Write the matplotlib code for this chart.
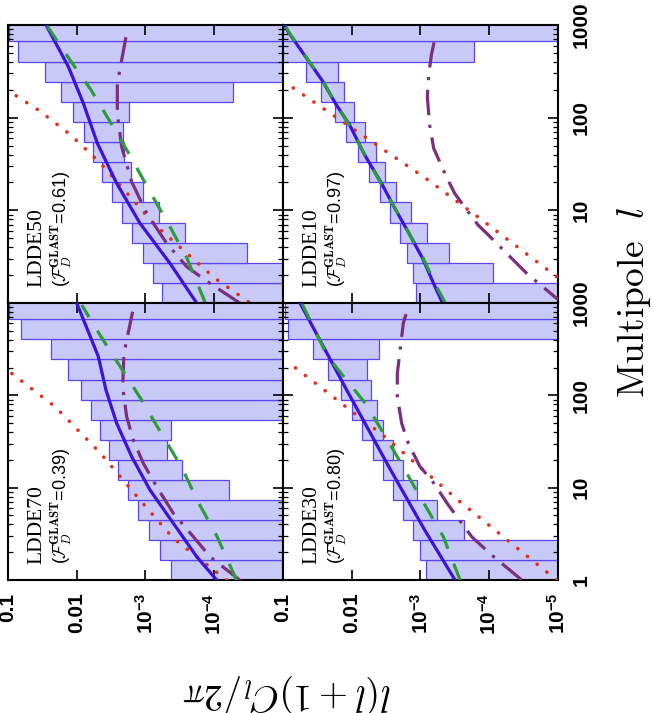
# anisotropy of the blazar background, 4 LDDE models (figure drawn rotated)

import numpy as np
import matplotlib.pyplot as plt
from matplotlib.ticker import FixedLocator, FixedFormatter, LogLocator, NullFormatter

# multipole bins (same for every panel)
bin_edges = [1, 1.65, 2.72, 4.48, 7.39, 12.2, 20.1, 33.1, 54.6, 90.0, 148, 245, 403, 665, 1097]

# error boxes, log10 of l(l+1)C_l/2pi, first bin = lowest l ; -6 means off the axis
ldde50_hi = [-3.24, -3.11, -2.97, -2.81, -2.66, -2.51, -2.37, -2.23, -2.10, -1.95, -1.77, -1.54, -1.15, -1.02]
ldde50_lo = [-6, -6, -4.48, -3.57, -3.20, -2.96, -2.79, -2.69, -2.67, -2.76, -4.28, -6, -6, -6]
ldde10_hi = [-2.935, -2.886, -2.804, -2.697, -2.552, -2.416, -2.251, -2.091, -1.921, -1.752, -1.558, -1.339, -0.9, -0.9]
ldde10_lo = [-6, -4.06, -3.41, -3.095, -2.867, -2.648, -2.488, -2.348, -2.188, -2.033, -1.887, -1.80, -3.773, -6]
ldde70_hi = [-3.366, -3.206, -3.051, -2.886, -2.74, -2.605, -2.469, -2.338, -2.202, -2.057, -1.878, -1.621, -1.184, -1.02]
ldde70_lo = [-6, -6, -6, -6, -4.219, -3.536, -3.318, -3.366, -6, -6, -6, -6, -6, -6]
ldde30_hi = [-3.08, -2.993, -2.886, -2.75, -2.595, -2.45, -2.304, -2.154, -1.999, -1.839, -1.659, -1.441, -1.078, -1.03]
ldde30_lo = [-6, -6, -3.638, -3.235, -2.954, -2.75, -2.595, -2.45, -2.362, -2.275, -2.227, -2.401, -6, -6]

# curves as (log10 l, log10 C)
ldde50_total = [(0, -3.744), (0.428, -3.356), (0.86, -2.92), (1.291, -2.581), (1.723, -2.30),
                (2.155, -2.096), (2.55, -1.878), (3.0, -1.553)]
ldde50_dash = [(0, -3.87), (0.097, -3.817), (0.482, -3.604), (0.842, -3.342), (1.212, -3.056),
               (1.579, -2.784), (1.946, -2.493), (2.306, -2.202), (2.622, -1.902), (3.0, -1.56)]
ldde50_dashdot = [(0.0, -4.37), (0.212, -3.938), (0.392, -3.599), (0.644, -3.308), (0.968, -3.017),
                  (1.31, -2.798), (1.687, -2.653), (2.047, -2.59), (2.37, -2.59), (2.91, -2.726)]
ldde50_dot = [(0.014, -4.496), (0.266, -4.011), (0.554, -3.575), (0.86, -3.114), (1.068, -2.871),
              (1.514, -2.338), (1.813, -1.912), (2.083, -1.441), (2.245, -1.102)]

ldde10_total = [(0, -3.32), (0.194, -3.20), (0.482, -3.03), (0.77, -2.818), (1.058, -2.6),
                (1.309, -2.42), (1.597, -2.188), (1.921, -1.97), (2.137, -1.776), (2.388, -1.582),
                (2.928, -1.073), (3.0, -1.02)]
ldde10_dash = [(0, -3.36), (0.194, -3.22), (0.482, -3.04), (0.77, -2.82), (1.058, -2.6),
               (1.309, -2.41), (1.597, -2.19), (1.921, -1.96), (2.137, -1.78), (2.388, -1.585),
               (2.928, -1.08), (3.0, -1.03)]
ldde10_dashdot = [(0.0, -5.1), (0.05, -4.98), (0.32, -4.544), (0.752, -3.962), (0.842, -3.836),
                  (0.986, -3.691), (1.183, -3.497), (1.363, -3.376), (1.669, -3.192), (1.921, -3.133),
                  (2.227, -3.099), (2.46, -3.119), (2.676, -3.158), (2.892, -3.221)]
ldde10_dot = [(0.284, -4.98), (0.914, -3.861), (1.335, -3.095), (1.831, -2.115), (2.335, -1.121)]

ldde70_total = [(0, -4.035), (0.253, -3.744), (0.614, -3.405), (0.975, -3.065), (1.336, -2.799),
                (1.697, -2.581), (2.058, -2.425), (2.419, -2.314), (2.599, -2.217), (3.0, -1.999)]
ldde70_dash = [(0, -4.32), (0.036, -4.302), (0.48, -4.035), (0.841, -3.768), (1.22, -3.526),
               (1.581, -3.235), (1.949, -2.944), (2.303, -2.639), (2.653, -2.338), (2.978, -2.072)]
ldde70_dashdot = [(-0.018, -4.399), (0.253, -3.938), (0.469, -3.696), (0.722, -3.405), (1.011, -3.162),
                  (1.264, -2.968), (1.516, -2.823), (1.769, -2.726), (2.094, -2.668), (2.455, -2.687),
                  (2.906, -2.813)]
ldde70_dot = [(0, -4.18), (0.451, -3.405), (0.866, -2.92), (1.379, -2.338), (1.877, -1.684), (2.238, -1.053)]

ldde30_total = [(0, -3.502), (0.542, -3.06), (1.191, -2.566), (2.058, -1.926), (3.0, -1.247)]
ldde30_dash = [(0, -3.575), (0.469, -3.332), (0.903, -2.993), (1.408, -2.605), (1.895, -2.217),
               (2.419, -1.65), (3.0, -1.272)]
ldde30_dashdot = [(0, -4.472), (0.271, -4.035), (0.469, -3.744), (0.812, -3.405), (1.083, -3.162),
                  (1.227, -2.993), (1.48, -2.823), (1.697, -2.726), (1.986, -2.663), (2.238, -2.663),
                  (2.78, -2.75), (2.88, -2.79)]
ldde30_dot = [(0, -4.98), (0.848, -3.574), (1.552, -2.48), (2.329, -1.126)]

c_ticks = [1e-1, 1e-2, 1e-3, 1e-4, 1e-5]
c_labels = ['0.1', '0.01', r'$\mathregular{10^{-3}}$', r'$\mathregular{10^{-4}}$', r'$\mathregular{10^{-5}}$']
l_ticks = [1, 10, 100, 1000]
l_labels = ['1', '10', '100', '1000']

box_face = '#c9c9f7'
box_edge = '#5a46ee'


def curve(ax, pts, **kw):
    pts = np.array(pts)
    ax.plot(10.0 ** pts[:, 1], 10.0 ** pts[:, 0], **kw)


def draw_panel(ax, name, frac, hi, lo, total, dash, dashdot, dot, xlab, ylab):
    upper = 10.0 ** np.array(hi)
    lower = 10.0 ** np.array(lo)
    ax.barh(bin_edges[:-1], upper - lower, height=np.diff(bin_edges), left=lower, align='edge',
            color=box_face, edgecolor=box_edge, linewidth=0.9, zorder=1)

    curve(ax, dot, color='#e0301a', lw=2.6, dashes=(0.05, 3.4), dash_capstyle='round', zorder=3)
    curve(ax, dashdot, color='#7b2f7f', lw=2.3, dashes=(8, 3, 1, 3), zorder=3)
    curve(ax, total, color='#3b12de', lw=2.3, zorder=4)
    curve(ax, dash, color='#2d9b3e', lw=2.3, dashes=(5.5, 5), zorder=5)

    ax.set_xscale('log')
    ax.set_yscale('log')
    ax.set_xlim(1e-1, 1e-5)
    ax.set_ylim(1, 1000)

    ax.xaxis.set_major_locator(FixedLocator(c_ticks))
    ax.xaxis.set_major_formatter(FixedFormatter(xlab or [''] * 5))
    ax.xaxis.set_minor_locator(LogLocator(base=10, subs=np.arange(2, 10)))
    ax.xaxis.set_minor_formatter(NullFormatter())
    ax.yaxis.set_major_locator(FixedLocator(l_ticks))
    ax.yaxis.set_major_formatter(FixedFormatter(ylab or [''] * 4))
    ax.yaxis.set_minor_locator(LogLocator(base=10, subs=np.arange(2, 10)))
    ax.yaxis.set_minor_formatter(NullFormatter())

    ax.tick_params(which='both', direction='in', top=True, bottom=True, left=True, right=True,
                   labelleft=False, labeltop=False, labelbottom=xlab is not None,
                   labelright=ylab is not None)
    ax.tick_params(which='major', length=7, width=1.2, labelsize=15)
    ax.tick_params(axis='x', which='major', pad=9)
    ax.tick_params(axis='y', which='major', pad=10)
    ax.tick_params(which='minor', length=3.5, width=0.9)
    for sp in ax.spines.values():
        sp.set_linewidth(1.5)

    if xlab is not None:
        for t in ax.xaxis.get_major_ticks():
            t.label1.set_rotation(90)
            t.label1.set_fontweight('bold')
            t.label1.set_family('Liberation Sans')
    if ylab is not None:
        for t in ax.yaxis.get_major_ticks():
            t.label2.set_rotation(90)
            t.label2.set_va('center')
            t.label2.set_fontweight('bold')
            t.label2.set_family('Liberation Sans')

    ax.text(0.069, 0.058, name, transform=ax.transAxes, rotation=90, ha='left', va='bottom',
            fontsize=15.5, family='Liberation Serif')
    ax.text(0.152, 0.058, '(' + r'$\mathcal{F}_D^{\mathbf{GLAST}}$' + '=' + frac + ')',
            transform=ax.transAxes, rotation=90, ha='left', va='bottom', fontsize=13,
            family='Liberation Sans', math_fontfamily='cm')


fig = plt.figure(figsize=(6.54, 7.13), dpi=100)

ax_tl = fig.add_axes([0.01223, 0.57504, 0.42049, 0.38990])
ax_tr = fig.add_axes([0.43272, 0.57504, 0.42049, 0.38990])
ax_bl = fig.add_axes([0.01223, 0.18654, 0.42049, 0.38850])
ax_br = fig.add_axes([0.43272, 0.18654, 0.42049, 0.38850])

draw_panel(ax_tl, 'LDDE50', '0.61', ldde50_hi, ldde50_lo, ldde50_total, ldde50_dash,
           ldde50_dashdot, ldde50_dot, None, None)
draw_panel(ax_tr, 'LDDE10', '0.97', ldde10_hi, ldde10_lo, ldde10_total, ldde10_dash,
           ldde10_dashdot, ldde10_dot, None, [''] + l_labels[1:])
draw_panel(ax_bl, 'LDDE70', '0.39', ldde70_hi, ldde70_lo, ldde70_total, ldde70_dash,
           ldde70_dashdot, ldde70_dot, c_labels[:-1] + [''], None)
draw_panel(ax_br, 'LDDE30', '0.80', ldde30_hi, ldde30_lo, ldde30_total, ldde30_dash,
           ldde30_dashdot, ldde30_dot, c_labels, l_labels)

fig.text(0.9697, 0.575, r'$\mathrm{Multipole}\ \ l$', rotation=90, fontsize=27,
         ha='center', va='center', math_fontfamily='cm')
fig.text(0.439, 0.028, r'$l(l+1)C_l/2\pi$', rotation=180, fontsize=27,
         ha='center', va='center', math_fontfamily='cm')

plt.savefig('out.png', dpi=100)
plt.close()
